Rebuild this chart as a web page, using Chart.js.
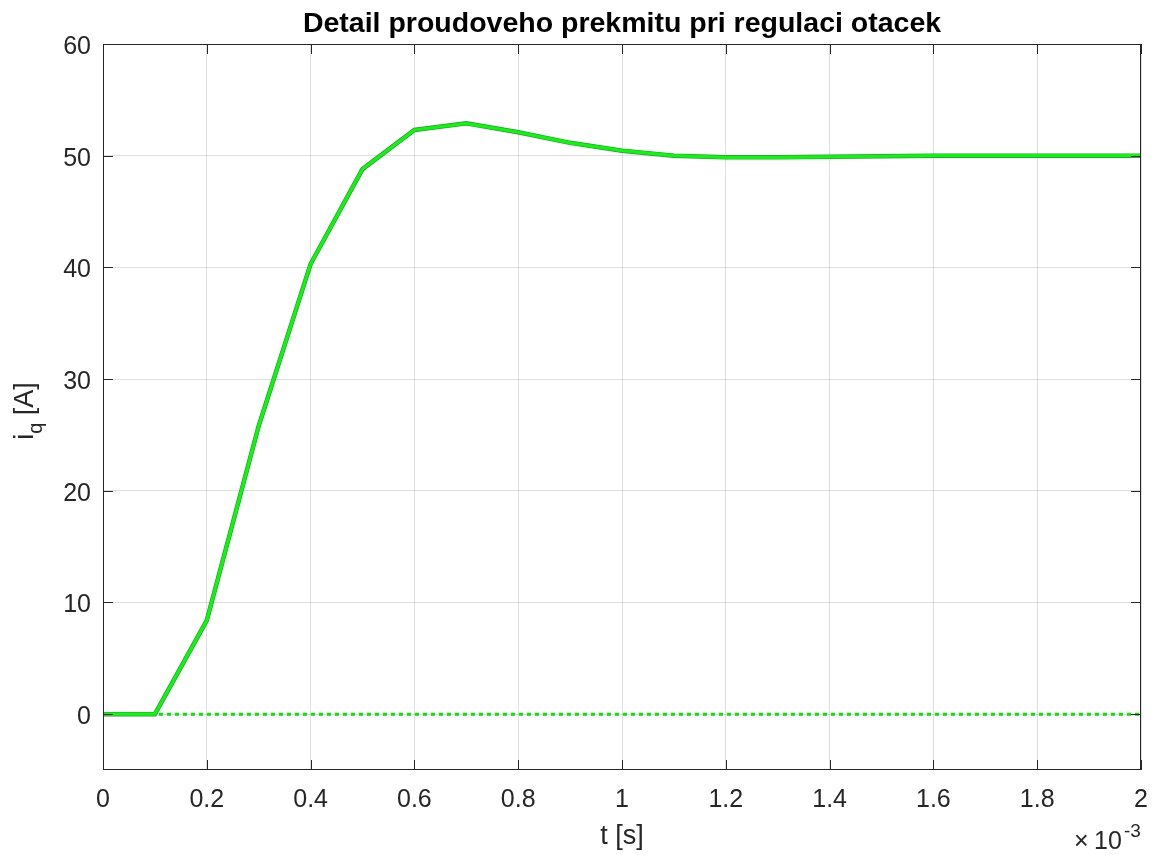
<!DOCTYPE html>
<html>
<head>
<meta charset="utf-8">
<script src="https://cdn.jsdelivr.net/npm/chart.js@4/dist/chart.umd.min.js"></script>
<style>
html,body{margin:0;padding:0;background:#fff;}
#wrap{width:1156px;height:855px;position:relative;}
</style>
</head>
<body>
<div id="wrap"><canvas id="c" width="1156" height="855"></canvas></div>
<script>
// ---- data ----
const timeMs = [0,0.1,0.2,0.3,0.4,0.5,0.6,0.7,0.8,0.9,1.0,1.1,1.2,1.3,1.4,1.5,1.6,1.7,1.8,1.9,2.0];
const iq = [0,0,8.4,25.8,40.3,48.8,52.3,52.9,52.1,51.15,50.45,50.0,49.85,49.85,49.9,49.95,50.0,50.0,50.0,50.0,50.0];
const idZero = [0,0,0,0,0,0,0,0,0,0,0,0,0,0,0,0,0,0,0,0,0];
const xTicks = [0,0.2,0.4,0.6,0.8,1,1.2,1.4,1.6,1.8,2];
const xTickLabels = ['0','0.2','0.4','0.6','0.8','1','1.2','1.4','1.6','1.8','2'];
const yTicks = [0,10,20,30,40,50,60];
const yTickLabels = ['0','10','20','30','40','50','60'];
const titleText = 'Detail proudoveho prekmitu pri regulaci otacek';
const xLabel = 't [s]';

const toPts = (ys) => ys.map((v,i)=>({x: timeMs[i]*1e-3, y: v}));
const FONT = '"Liberation Sans", Arial, Helvetica, sans-serif';
const AX = '#262626';

const decor = {
  id:'decor',
  afterDraw(chart){
    const ctx = chart.ctx, a = chart.chartArea;
    const xs = chart.scales.x, ys = chart.scales.y;
    ctx.save();
    // box
    ctx.strokeStyle = AX; ctx.lineWidth = 1;
    ctx.strokeRect(Math.round(a.left)+0.5, Math.round(a.top)+0.5, Math.round(a.right-a.left)-1, Math.round(a.bottom-a.top)-1);
    // ticks inward
    ctx.beginPath();
    xTicks.forEach(t=>{
      const px = Math.round(xs.getPixelForValue(t*1e-3))+0.5;
      ctx.moveTo(px, a.bottom); ctx.lineTo(px, a.bottom-10);
      ctx.moveTo(px, a.top); ctx.lineTo(px, a.top+10);
    });
    yTicks.forEach(t=>{
      const py = Math.round(ys.getPixelForValue(t))+0.5;
      ctx.moveTo(a.left, py); ctx.lineTo(a.left+10, py);
      ctx.moveTo(a.right, py); ctx.lineTo(a.right-10, py);
    });
    ctx.stroke();
    // tick labels
    ctx.fillStyle = AX;
    ctx.font = '25px ' + FONT;
    ctx.textBaseline = 'alphabetic';
    ctx.textAlign = 'center';
    xTicks.forEach((t,i)=>{
      ctx.fillText(xTickLabels[i], xs.getPixelForValue(t*1e-3), 807);
    });
    ctx.textAlign = 'right';
    yTicks.forEach((t,i)=>{
      ctx.fillText(yTickLabels[i], 91, ys.getPixelForValue(t)+10);
    });
    // title
    ctx.fillStyle = '#000';
    ctx.font = 'bold 28.5px ' + FONT;
    ctx.textAlign = 'center';
    ctx.fillText(titleText, (a.left+a.right)/2, 32);
    // x label
    ctx.fillStyle = AX;
    ctx.font = '27px ' + FONT;
    ctx.fillText(xLabel, (a.left+a.right)/2, 844);
    // y label (rotated) i_q [A]
    ctx.save();
    ctx.translate(33, 411);
    ctx.rotate(-Math.PI/2);
    ctx.textAlign = 'left';
    ctx.font = '27px ' + FONT;
    const w1 = ctx.measureText('i').width;
    ctx.font = '20px ' + FONT;
    const w2 = ctx.measureText('q').width;
    ctx.font = '27px ' + FONT;
    const w3 = ctx.measureText(' [A]').width;
    let x0 = -(w1+w2+w3)/2;
    ctx.fillText('i', x0, 0);
    ctx.font = '20px ' + FONT;
    ctx.fillText('q', x0+w1, 9);
    ctx.font = '27px ' + FONT;
    ctx.fillText(' [A]', x0+w1+w2, 0);
    ctx.restore();
    // exponent label x10^-3
    ctx.textAlign = 'left';
    ctx.font = '25px ' + FONT;
    ctx.fillText('\u00d7', 1074, 849);
    ctx.fillText('10', 1094, 849);
    ctx.font = '19px ' + FONT;
    ctx.fillText('-3', 1124, 837);
    ctx.restore();
  }
};

new Chart(document.getElementById('c'), {
  type:'line',
  data:{
    datasets:[
      {data: toPts(idZero), borderColor:'#00e600', borderWidth:3, borderDash:[4,4], pointRadius:0, fill:false, order:3},
      {data: toPts(iq), borderColor:'#4f7f57', borderWidth:4.5, pointRadius:0, fill:false, order:2},
      {data: toPts(iq), borderColor:'#00ff00', borderWidth:3.2, pointRadius:0, fill:false, order:1}
    ]
  },
  options:{
    responsive:false, animation:false, devicePixelRatio:1,
    layout:{padding:{left:0,right:15,top:44,bottom:0}},
    plugins:{legend:{display:false}, tooltip:{enabled:false}, title:{display:false}},
    scales:{
      x:{
        type:'linear', min:0, max:0.002,
        afterBuildTicks(s){ s.ticks = xTicks.map(v=>({value:v*1e-3})); },
        afterFit(s){ s.height = 85; s.paddingLeft = 0; s.paddingRight = 0; },
        ticks:{ display:false },
        grid:{ color:'rgba(0,0,0,0.12)', drawTicks:false, lineWidth:1 },
        border:{display:false}
      },
      y:{
        type:'linear', min:-5, max:60,
        afterBuildTicks(s){ s.ticks = yTicks.map(v=>({value:v})); },
        afterFit(s){ s.width = 103; s.paddingTop = 0; s.paddingBottom = 0; },
        ticks:{ display:false },
        grid:{ color:'rgba(0,0,0,0.12)', drawTicks:false, lineWidth:1 },
        border:{display:false}
      }
    }
  },
  plugins:[decor]
});
</script>
</body>
</html>
